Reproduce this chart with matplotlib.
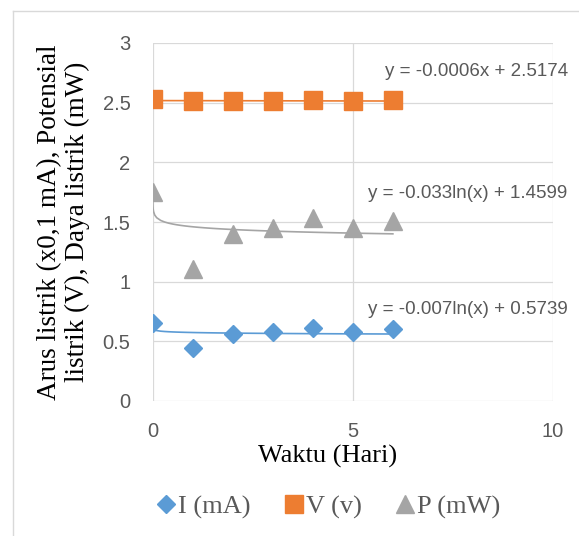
import matplotlib
matplotlib.use("Agg")
import matplotlib.pyplot as plt
from matplotlib.lines import Line2D
import numpy as np

# data
days = [0, 1, 2, 3, 4, 5, 6]
arus = [0.65, 0.44, 0.56, 0.58, 0.61, 0.58, 0.60]
tegangan = [2.53, 2.51, 2.51, 2.51, 2.52, 2.51, 2.52]
daya = [1.75, 1.11, 1.40, 1.45, 1.53, 1.45, 1.51]

# trendline coefficients shown on the chart
v_slope, v_icpt = -0.0006, 2.5174
p_a, p_b = -0.033, 1.4599
i_a, i_b = -0.007, 0.5739

c_i = "#5B9BD5"
c_v = "#ED7D31"
c_p = "#A5A5A5"
txt = "#595959"

W, H = 579, 536
fig = plt.figure(figsize=(W/100, H/100), dpi=100)
ax = fig.add_axes([152.7/W, 1-401/H, 400.3/W, 358/H])

# trendlines
xl = np.linspace(0, 6, 50)
ax.plot(xl, v_slope*xl + v_icpt, color=c_v, lw=1.2, zorder=2)
xg = np.concatenate([[0.002, 0.005, 0.01, 0.02, 0.05], np.linspace(0.1, 6, 60)])
ax.plot(xg, p_a*np.log(xg) + p_b, color=c_p, lw=1.2, zorder=2)
ax.plot(xg, i_a*np.log(xg) + i_b, color=c_i, lw=1.2, zorder=2)

ax.plot(days, arus, "D", color=c_i, ms=9, ls="none", label="I (mA)", zorder=3)
ax.plot(days, tegangan, "s", color=c_v, ms=12.5, ls="none", label="V (v)", zorder=3)
ax.plot(days, daya, "^", color=c_p, ms=13, ls="none", label="P (mW)", zorder=3)

ax.set_xlim(0, 10)
ax.set_ylim(0, 3)
ax.set_xticks([0, 5, 10])
ax.set_yticks([0, 0.5, 1, 1.5, 2, 2.5, 3])
ax.set_yticklabels(["0", "0.5", "1", "1.5", "2", "2.5", "3"])
ax.grid(True, color="#D9D9D9", lw=0.9)
ax.set_axisbelow(True)
for s in ax.spines.values():
    s.set_visible(False)
ax.tick_params(length=0, labelsize=14.5, colors=txt)
ax.tick_params(axis="x", pad=15)
ax.tick_params(axis="y", pad=16)
for lab in ax.get_xticklabels() + ax.get_yticklabels():
    lab.set_family("Liberation Sans")

ax.set_xlabel("Waktu (Hari)", family="Liberation Serif", fontsize=19, color="black", va="baseline")
ax.xaxis.set_label_coords(0.438, -0.173)
ax.set_ylabel("Arus listrik (x0,1 mA), Potensial\nlistrik (V), Daya listrik (mW)",
              family="Liberation Serif", fontsize=19.5, color="black", va="center", linespacing=1.15)
ax.yaxis.set_label_coords(-0.222, 0.5)

ax.text(5.80, 2.724, "y = -0.0006x + 2.5174", fontsize=13.5, color=txt, family="Liberation Sans", va="baseline")
ax.text(5.38, 1.70, "y = -0.033ln(x) + 1.4599", fontsize=13.5, color=txt, family="Liberation Sans", va="baseline")
ax.text(5.38, 0.729, "y = -0.007ln(x) + 0.5739", fontsize=13.5, color=txt, family="Liberation Sans", va="baseline")

leg = fig.legend(loc="center", bbox_to_anchor=(0.567, 1-507/H), ncol=3, frameon=False,
                 prop={"family": "Liberation Serif", "size": 19}, handletextpad=0.1,
                 columnspacing=1.3, labelcolor=txt, handlelength=0.7, markerscale=1.0)

# chart border (left and top edges visible)
fig.add_artist(Line2D([13/W, 13/W], [0, 1-11/H], color="#D9D9D9", lw=1, transform=fig.transFigure))
fig.add_artist(Line2D([13/W, 1], [1-11/H, 1-11/H], color="#D9D9D9", lw=1, transform=fig.transFigure))

fig.savefig("out.png", dpi=100)
